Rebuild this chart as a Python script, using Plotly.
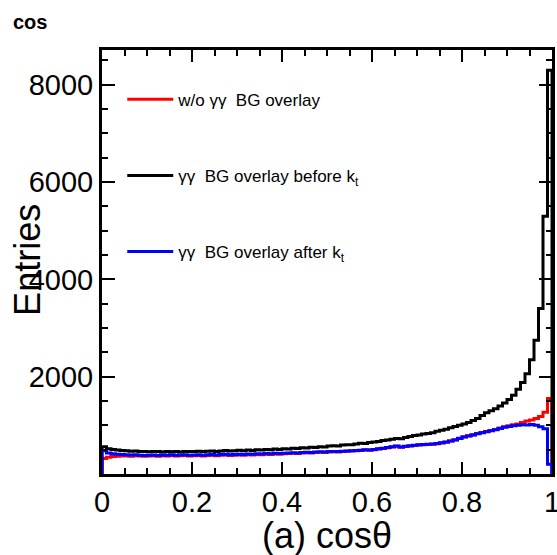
import numpy as np
import plotly.graph_objects as go

# ---- data (histogram contents, 100 bins on [0, 1]) ----
x_min, x_max, n_bins = 0.0, 1.0, 100

counts_without_bg = [
    320, 345, 360, 365, 370, 370, 365, 375, 370, 365,
    370, 375, 365, 375, 370, 380, 370, 375, 380, 370,
    375, 380, 370, 380, 385, 375, 385, 390, 380, 385,
    390, 385, 395, 390, 400, 395, 405, 400, 410, 405,
    415, 420, 425, 420, 430, 435, 430, 440, 445, 440,
    450, 455, 450, 465, 470, 475, 480, 485, 495, 490,
    500, 515, 525, 540, 555, 570, 550, 565, 575, 585,
    595, 600, 605, 610, 620, 635, 655, 680, 705, 735,
    765, 785, 805, 830, 855, 875, 895, 915, 945, 970,
    990, 1010, 1030, 1060, 1090, 1110, 1140, 1180, 1270, 1550,
]

counts_bg_before_kt = [
    560, 520, 505, 495, 485, 480, 470, 475, 465, 460,
    455, 465, 460, 450, 465, 455, 460, 450, 465, 460,
    465, 470, 460, 470, 475, 465, 475, 485, 475, 480,
    490, 480, 495, 485, 500, 495, 505, 500, 515, 505,
    520, 515, 530, 525, 540, 535, 550, 545, 560, 555,
    575, 580, 575, 595, 600, 600, 615, 630, 625, 645,
    660, 670, 690, 700, 715, 730, 725, 750, 770, 790,
    800, 820, 835, 850, 880, 900, 920, 950, 975, 1000,
    1030, 1060, 1100, 1140, 1200, 1260, 1300, 1340, 1400, 1460,
    1530, 1620, 1740, 1880, 2060, 2350, 2750, 3400, 5300, 8300,
]

counts_bg_after_kt = [
    480, 430, 415, 405, 400, 395, 390, 395, 385, 380,
    385, 390, 380, 390, 385, 395, 385, 390, 395, 385,
    390, 395, 385, 395, 400, 390, 400, 405, 395, 400,
    405, 400, 410, 405, 415, 410, 420, 415, 425, 420,
    425, 430, 435, 430, 440, 445, 440, 450, 455, 450,
    460, 465, 460, 470, 475, 480, 485, 490, 500, 495,
    505, 520, 530, 545, 560, 575, 555, 570, 580, 590,
    600, 605, 610, 615, 625, 640, 660, 680, 700, 730,
    760, 780, 800, 825, 850, 870, 890, 910, 935, 960,
    975, 990, 1000, 1010, 1005, 1020, 1000, 970, 930, 200,
]

series_names = [
    "w/o γγ  BG overlay",
    "γγ  BG overlay before k<sub>t</sub>",
    "γγ  BG overlay after k<sub>t</sub>",
]
series_colors = ["#ff0000", "#000000", "#0000ff"]

x_tick_vals = [0, 0.2, 0.4, 0.6, 0.8, 1.0]
x_tick_text = ["0", "0.2", "0.4", "0.6", "0.8", "1"]
y_tick_vals = [2000, 4000, 6000, 8000]
y_tick_text = ["2000", "4000", "6000", "8000"]

FONT = "Liberation Sans, Arial, Helvetica, sans-serif"

edges = np.linspace(x_min, x_max, n_bins + 1)


def step_outline(counts):
    """ROOT-like histogram outline: starts and ends at zero."""
    xs = [edges[0]] + list(edges[:-1]) + [edges[-1], edges[-1]]
    ys = [0] + list(counts) + [counts[-1], 0]
    return xs, ys


fig = go.Figure()
for name, counts, color in zip(series_names,
                               [counts_without_bg, counts_bg_before_kt, counts_bg_after_kt],
                               series_colors):
    xs, ys = step_outline(counts)
    fig.add_trace(go.Scatter(
        x=xs, y=ys, mode="lines", name=name,
        line=dict(color=color, width=3, shape="hv"),
        legendgroup=name, cliponaxis=True,
    ))

y_top = max(counts_bg_before_kt) * 1.05

axis_common = dict(
    showline=True, linecolor="black", linewidth=3, mirror="allticks",
    ticks="inside", tickcolor="black", tickwidth=2,
    showgrid=False, zeroline=False, ticklabeloverflow="allow",
    tickfont=dict(family=FONT, size=29, color="black"),
)

fig.update_layout(
    width=557, height=555,
    margin=dict(l=102, r=5, t=50, b=81, autoexpand=False),
    paper_bgcolor="white", plot_bgcolor="white",
    title=dict(text="<b>cos</b>", x=13 / 557, xanchor="left", xref="container",
               y=1 - 22 / 555, yanchor="middle", yref="container",
               font=dict(family=FONT, size=20, color="black")),
    xaxis=dict(range=[x_min, x_max], tickvals=x_tick_vals, ticktext=x_tick_text,
               ticklen=12, minor=dict(dtick=0.05, ticklen=6, tickwidth=2, ticks="inside",
                                      tickcolor="black"),
               **axis_common),
    yaxis=dict(range=[0, y_top], tickvals=y_tick_vals, ticktext=y_tick_text,
               ticklen=13, minor=dict(tick0=0, dtick=500, ticklen=6, tickwidth=2, ticks="inside",
                                      tickcolor="black"),
               **axis_common),
    legend=dict(x=0.045, y=0.925, xanchor="left", yanchor="top",
                bgcolor="rgba(0,0,0,0)", borderwidth=0, itemwidth=46,
                font=dict(family=FONT, size=17, color="black"),
                tracegroupgap=51),
    showlegend=True,
    annotations=[
        dict(text="Entries", textangle=-90, xref="paper", yref="paper",
             x=(28 - 102) / 450, y=0.505, xanchor="center", yanchor="middle",
             showarrow=False, font=dict(family=FONT, size=36, color="black")),
        dict(text="(a) cosθ", xref="paper", yref="paper",
             x=0.5, y=(474 - 535) / 424, xanchor="center", yanchor="middle",
             showarrow=False, font=dict(family=FONT, size=36, color="black")),
    ],
)

fig.write_html(
    "out.html",
    config={"displayModeBar": False},
    post_script="document.body.style.margin='0px';document.body.style.padding='0px';",
)
